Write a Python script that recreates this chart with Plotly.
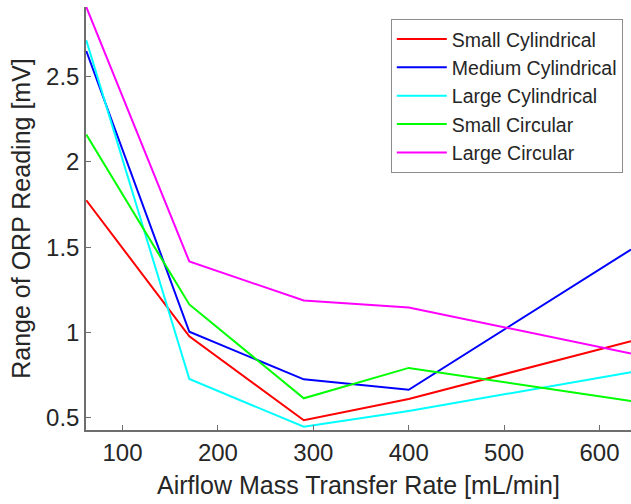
import plotly.graph_objects as go

x_vals = [62, 170, 290, 400, 633]
small_cyl = [1.775, 0.977, 0.485, 0.610, 0.949]
medium_cyl = [2.650, 1.004, 0.725, 0.664, 1.486]
large_cyl = [2.713, 0.727, 0.447, 0.540, 0.766]
small_circ = [2.160, 1.164, 0.614, 0.792, 0.598]
large_circ = [2.908, 1.416, 1.187, 1.146, 0.877]

names = ["Small Cylindrical", "Medium Cylindrical", "Large Cylindrical",
         "Small Circular", "Large Circular"]
series = [small_cyl, medium_cyl, large_cyl, small_circ, large_circ]
colors = ["#ff0000", "#0000ff", "#00ffff", "#00ff00", "#ff00ff"]

fig = go.Figure()
for n, s, c in zip(names, series, colors):
    fig.add_trace(go.Scatter(x=x_vals, y=s, mode="lines", name=n,
                             line=dict(color=c, width=2)))

axis_color = "#6e6e6e"
fig.update_layout(
    width=631, height=504,
    margin=dict(l=86, r=0, t=7, b=74),
    paper_bgcolor="white", plot_bgcolor="white",
    font=dict(family="Liberation Sans, Arial, sans-serif", color="#262626"),
    showlegend=True,
    legend=dict(x=0.985, y=0.972, xanchor="right", yanchor="top",
                bgcolor="white", bordercolor="#8c8c8c", borderwidth=1,
                font=dict(size=19.5, color="#262626"), itemwidth=50),
    xaxis=dict(range=[61.7, 633], tickvals=[100, 200, 300, 400, 500, 600],
               ticks="inside", ticklen=5, tickcolor=axis_color,
               showline=True, linecolor=axis_color, linewidth=1.5,
               showgrid=False, zeroline=False,
               tickfont=dict(size=24),
               title=dict(text="Airflow Mass Transfer Rate [mL/min]",
                          font=dict(size=25), standoff=12)),
    yaxis=dict(range=[0.428, 2.908], tickvals=[0.5, 1, 1.5, 2, 2.5],
               ticktext=["0.5", "1", "1.5", "2", "2.5"],
               ticks="inside", ticklen=5, tickcolor=axis_color,
               showline=True, linecolor=axis_color, linewidth=1.5,
               showgrid=False, zeroline=False,
               tickfont=dict(size=24),
               title=dict(text="Range of ORP Reading [mV]",
                          font=dict(size=25), standoff=8)),
)

fig.write_html("out.html")
